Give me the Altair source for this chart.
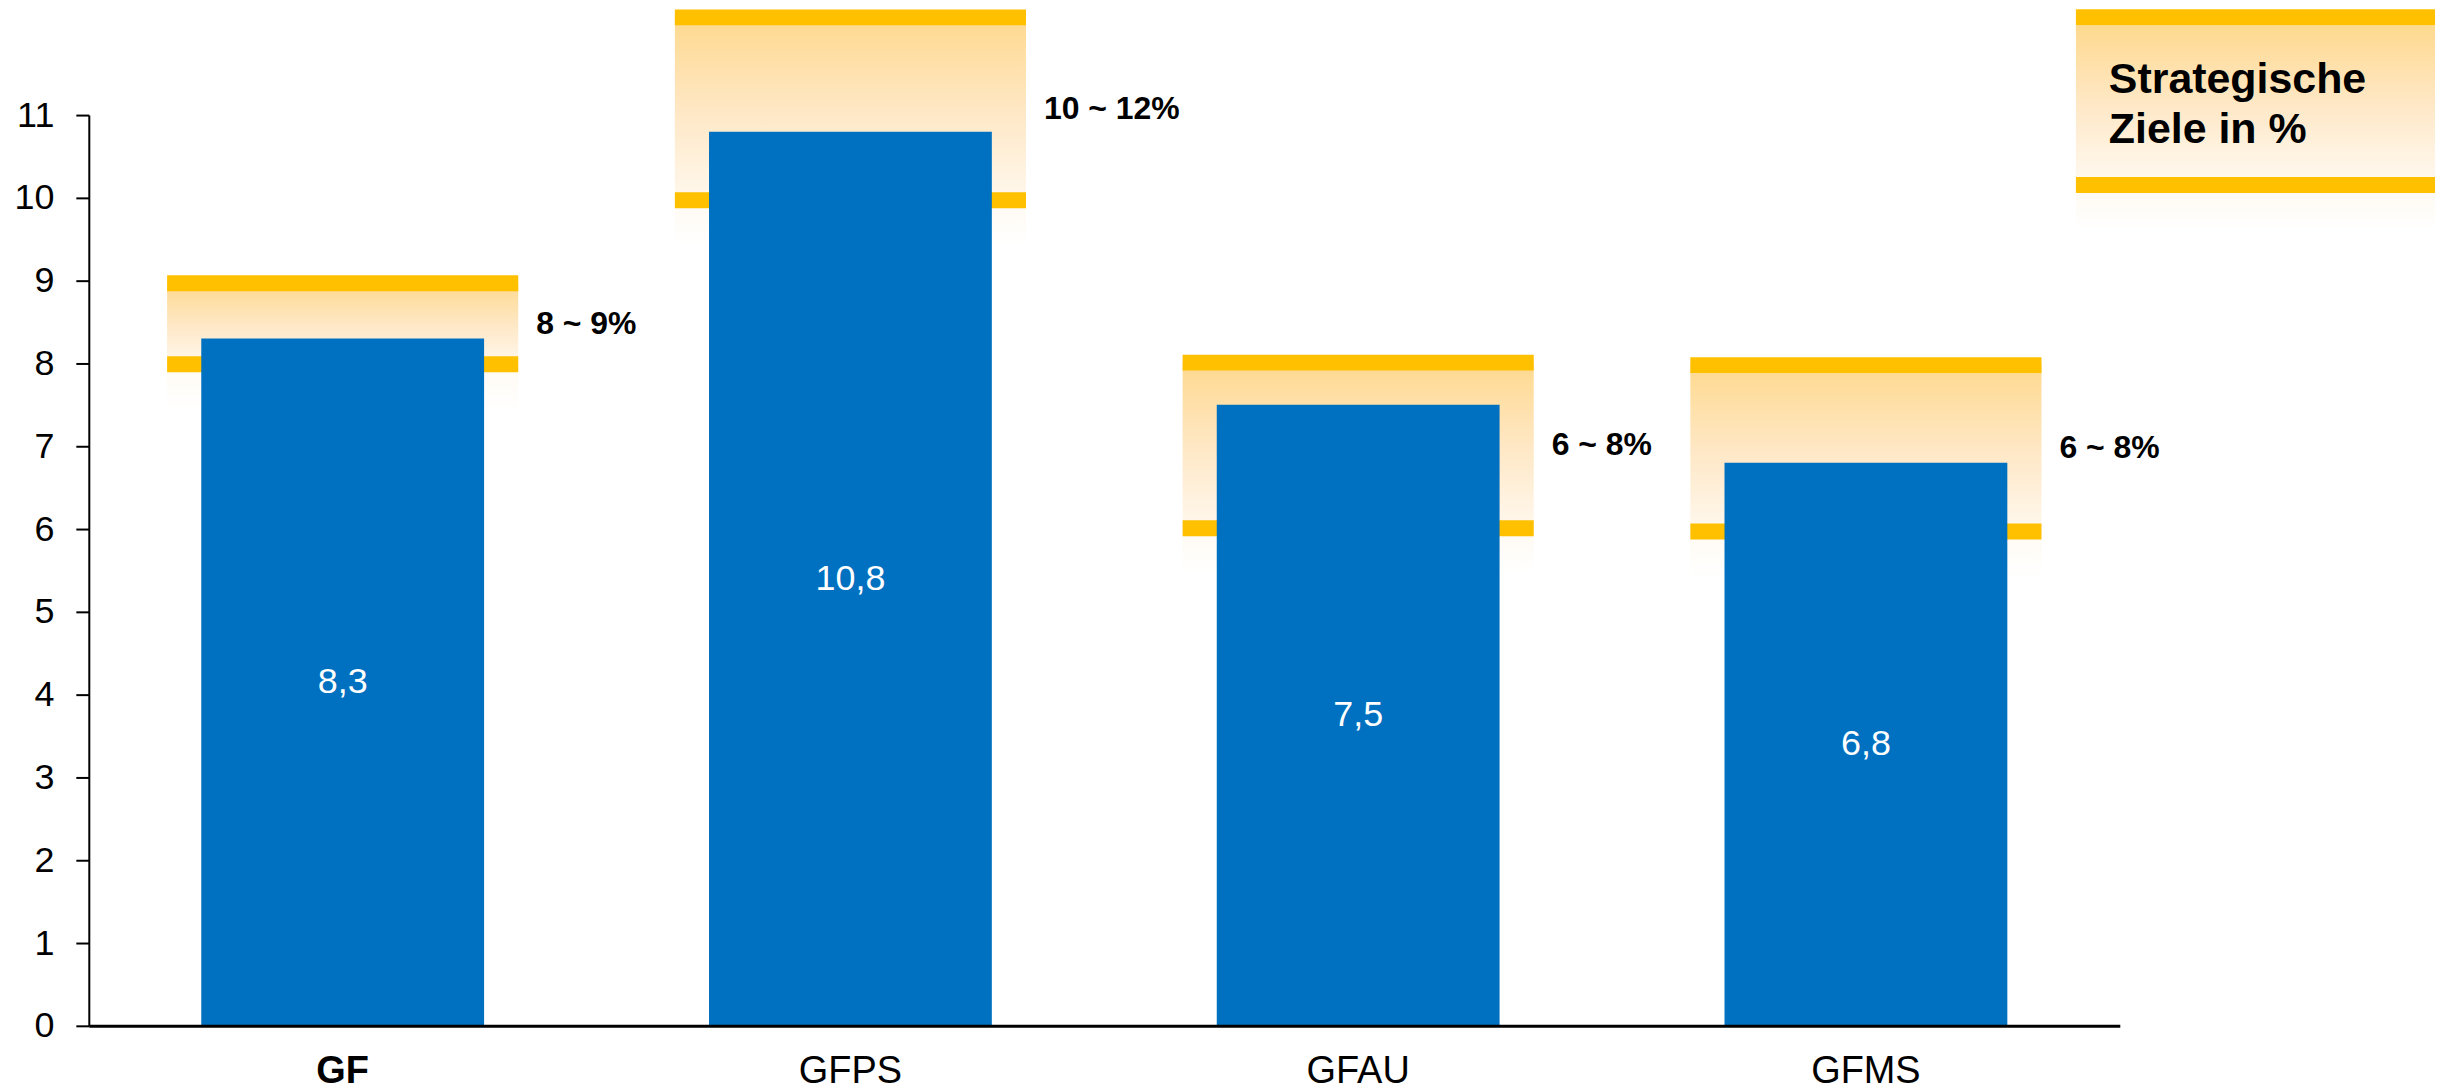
import altair as alt
import pandas as pd

# ---- data ----
categories = ["GF", "GFPS", "GFAU", "GFMS"]
values = [8.3, 10.8, 7.5, 6.8]
value_labels = ["8,3", "10,8", "7,5", "6,8"]
target_high = [8.97, 12.18, 8.01, 7.98]   # upper yellow stripe as drawn
target_low = [7.99, 9.97, 6.01, 5.97]     # lower yellow stripe as drawn
target_labels = ["8 ~ 9%", "10 ~ 12%", "6 ~ 8%", "6 ~ 8%"]
y_ticks = list(range(0, 12))
legend_lines = ["Strategische", "Ziele in %"]

df = pd.DataFrame({
    "cat": categories,
    "value": values,
    "vlabel": value_labels,
    "hi": target_high,
    "lo": target_low,
    "tlabel": target_labels,
})

FONT = "Liberation Sans"
BLUE = "#0070C0"
GOLD = "#FFC000"
BOX_W = 352

box_grad = alt.LinearGradient(
    gradient="linear", x1=0, x2=0, y1=0, y2=1,
    stops=[alt.GradientStop(color="#FED98E", offset=0),
           alt.GradientStop(color="#FEE7C4", offset=0.5),
           alt.GradientStop(color="#FFF8EE", offset=1)])
fade_grad = alt.LinearGradient(
    gradient="linear", x1=0, x2=0, y1=0, y2=1,
    stops=[alt.GradientStop(color="#FFFAF2", offset=0),
           alt.GradientStop(color="#FFFFFF", offset=1)])

x_enc = alt.X(
    "cat:N", sort=categories,
    scale=alt.Scale(paddingInner=0.443, paddingOuter=0.2215),
    axis=alt.Axis(
        title=None, labelAngle=0, ticks=False, tickSize=0,
        domainColor="black", domainWidth=3, labelColor="black",
        labelFont=FONT, labelFontSize=38, labelPadding=27,
        labelFontWeight={"expr": "datum.value == 'GF' ? 'bold' : 'normal'"},
        zindex=1),
)
y_scale = alt.Scale(domain=[0, 11], nice=False, zero=True)
y_axis = alt.Axis(
    title=None, values=y_ticks, format="d", grid=False, domainColor="black",
    domainWidth=2, tickColor="black", tickWidth=2, tickSize=13,
    labelFont=FONT, labelFontSize=36, labelColor="black", labelPadding=22,
    zindex=1)

base = alt.Chart(df).encode(x=x_enc)

box = base.mark_bar(width=BOX_W, fill=box_grad, strokeWidth=0).encode(
    y=alt.Y("hi:Q", scale=y_scale, axis=y_axis), y2="lo:Q")

fade = base.transform_calculate(fade_end="datum.lo - 0.55").mark_bar(
    width=BOX_W, fill=fade_grad, strokeWidth=0).encode(
    y="lo:Q", y2="fade_end:Q")

stripes = base.transform_fold(["hi", "lo"], as_=["kind", "pos"]).mark_tick(
    orient="horizontal", size=BOX_W, thickness=16, color=GOLD, opacity=1
).encode(y="pos:Q")

bars = base.mark_bar(color=BLUE).encode(y="value:Q")

vtext = base.transform_calculate(half="datum.value / 2").mark_text(
    color="white", font=FONT, fontSize=36, baseline="middle"
).encode(y="half:Q", text="vlabel:N")

ttext = base.transform_calculate(mid="(datum.hi + datum.lo) / 2").mark_text(
    color="black", font=FONT, fontSize=32, fontWeight="bold",
    align="left", baseline="middle", dx=194
).encode(y="mid:Q", text="tlabel:N")

# ---- legend box (top right) ----
leg_df = pd.DataFrame({"k": [0]})
leg = alt.Chart(leg_df)
LX1, LX2 = 1992, 2352
leg_box = leg.mark_rect(fill=box_grad, strokeWidth=0).encode(
    x=alt.value(LX1), x2=alt.value(LX2), y=alt.value(-90), y2=alt.value(62))
leg_fade = leg.mark_rect(fill=fade_grad, strokeWidth=0).encode(
    x=alt.value(LX1), x2=alt.value(LX2), y=alt.value(78), y2=alt.value(116))
leg_top = leg.mark_rule(color=GOLD, strokeWidth=16, strokeCap="butt").encode(
    x=alt.value(LX1), x2=alt.value(LX2), y=alt.value(-98))
leg_bot = leg.mark_rule(color=GOLD, strokeWidth=16, strokeCap="butt").encode(
    x=alt.value(LX1), x2=alt.value(LX2), y=alt.value(70))
leg_text = leg.mark_text(
    text=legend_lines, font=FONT, fontSize=43, fontWeight="bold",
    color="black", align="left", baseline="alphabetic", lineHeight=50
).encode(x=alt.value(2025), y=alt.value(-22))

chart = alt.layer(
    box, fade, stripes, bars, vtext, ttext,
    leg_box, leg_fade, leg_top, leg_bot, leg_text,
).properties(
    width=2036, height=913,
    padding={"left": 5, "top": 0, "right": 0, "bottom": 0},
).configure(
    font=FONT,
    view=alt.ViewConfig(strokeWidth=0, stroke="transparent"),
)

chart.save("out.html", embed_options={"renderer": "svg", "actions": False})
